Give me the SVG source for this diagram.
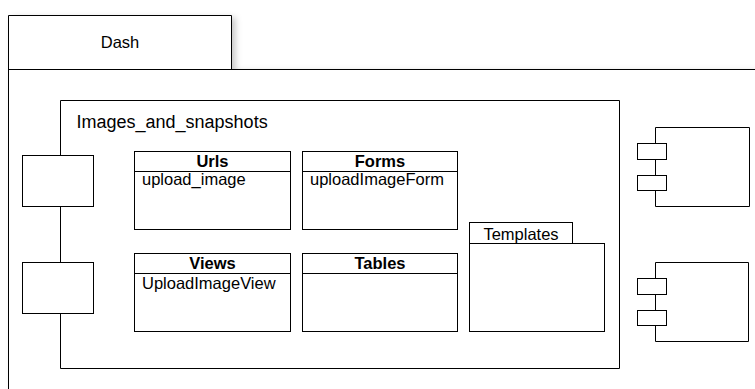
<svg xmlns="http://www.w3.org/2000/svg" width="755" height="389" viewBox="0 0 755 389">
<style>
.ln{fill:#fff;stroke:#000;stroke-width:1}
.nf{fill:none;stroke:#000;stroke-width:1}
.t{font-family:"Liberation Sans",Arial,sans-serif;font-size:16.5px;fill:#000}
.b{font-weight:bold;text-anchor:middle}
</style>
<defs>
<filter id="sh" x="-5%" y="-5%" width="115%" height="115%">
<feDropShadow dx="4" dy="2" stdDeviation="3" flood-color="#000" flood-opacity="0.22"/>
</filter>
</defs>
<g id="dash">
<path fill="#fff" stroke="none" filter="url(#sh)" d="M8.5,400 V15.5 H231.5 V69.5 H780 V400 Z"/>
<path class="nf" d="M8.5,389 V15.5 H231.5 V69.5 M8.5,69.5 H755"/>
<text class="t" x="120" y="48" text-anchor="middle">Dash</text>
</g>
<g id="images_and_snapshots">
<path class="nf" d="M60.5,155.5 V100.5 H619.5 V368.5 H60.5 V313.5 M60.5,206.5 V262.5"/>
<text class="t" x="76.5" y="128" style="font-size:18px">Images_and_snapshots</text>
</g>
<g id="port1"><rect class="ln" x="22.5" y="155.5" width="71" height="51"/></g>
<g id="port2"><rect class="ln" x="22.5" y="262.5" width="71" height="51"/></g>
<g id="urls">
<rect class="ln" x="134.5" y="151.5" width="156" height="78"/>
<line class="nf" x1="134.5" y1="171.5" x2="290.5" y2="171.5"/>
<text class="t b" x="212.5" y="166.5">Urls</text>
<text class="t" x="142" y="185">upload_image</text>
</g>
<g id="forms">
<rect class="ln" x="302.5" y="151.5" width="155" height="78"/>
<line class="nf" x1="302.5" y1="171.5" x2="457.5" y2="171.5"/>
<text class="t b" x="380" y="166.5">Forms</text>
<text class="t" x="310" y="185">uploadImageForm</text>
</g>
<g id="views">
<rect class="ln" x="134.5" y="253.5" width="156" height="78"/>
<line class="nf" x1="134.5" y1="273.5" x2="290.5" y2="273.5"/>
<text class="t b" x="212.5" y="268.5">Views</text>
<text class="t" x="142" y="288.5">UploadImageView</text>
</g>
<g id="tables">
<rect class="ln" x="302.5" y="253.5" width="155" height="78"/>
<line class="nf" x1="302.5" y1="273.5" x2="457.5" y2="273.5"/>
<text class="t b" x="380" y="268.5">Tables</text>
</g>
<g id="templates">
<rect class="ln" x="469.5" y="222.5" width="103" height="21"/>
<rect class="ln" x="469.5" y="243.5" width="135" height="88"/>
<text class="t" x="521" y="239.5" text-anchor="middle">Templates</text>
</g>
<g id="component1">
<path class="nf" d="M655.5,143.5 V127.5 H749.5 V206.5 H655.5 V190.5 M655.5,159.5 V175.5"/>
<rect class="ln" x="637.5" y="143.5" width="29" height="16"/>
<rect class="ln" x="637.5" y="175.5" width="29" height="15"/>
</g>
<g id="component2">
<path class="nf" d="M655.5,278.5 V262.5 H748.5 V341.5 H655.5 V325.5 M655.5,294.5 V310.5"/>
<rect class="ln" x="637.5" y="278.5" width="29" height="16"/>
<rect class="ln" x="637.5" y="310.5" width="29" height="15"/>
</g>
<g id="connectors"></g>
</svg>
